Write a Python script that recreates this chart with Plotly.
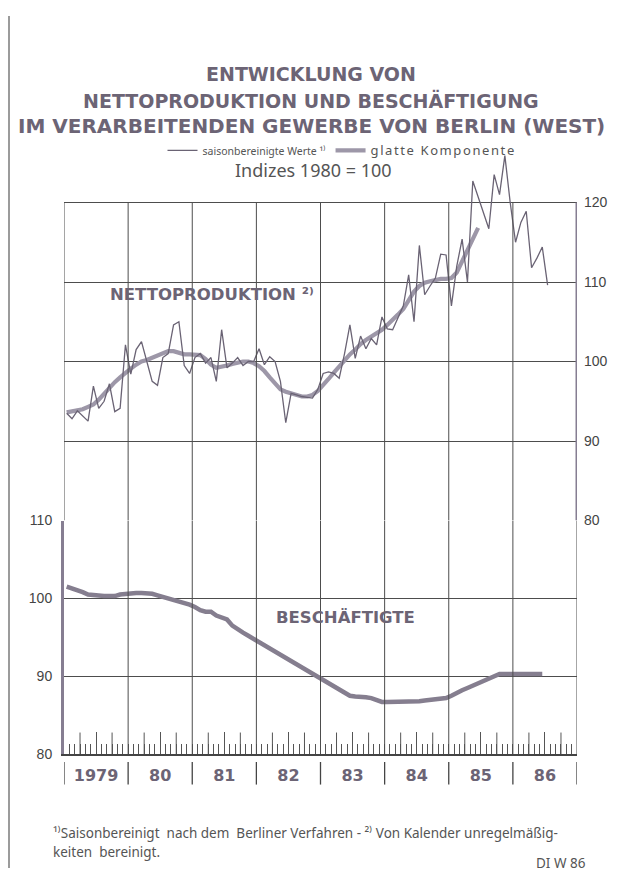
import plotly.graph_objects as go

# ---------------- data (monthly, starting January 1979) ----------------
start_year = 1979
year_labels = ["1979", "80", "81", "82", "83", "84", "85", "86"]

netto_saison = [
    93.5, 92.8, 93.8, 93.2, 92.5, 96.9, 94.1, 95.0, 97.2, 93.7, 94.1, 102.1,      # 1979
    98.4, 101.5, 102.5, 100.0, 97.5, 97.0, 100.5, 101.0, 104.6, 105.0, 99.5, 98.5,  # 1980
    100.5, 101.0, 99.8, 100.5, 97.5, 104.0, 99.2, 99.8, 100.5, 99.5, 100.0, 100.0,  # 1981
    101.6, 99.6, 100.6, 100.0, 97.5, 92.3, 96.0, 95.8, 95.6, 95.5, 95.4, 96.5,      # 1982
    98.5, 98.7, 98.5, 97.9, 101.0, 104.6, 100.4, 103.2, 101.6, 102.9, 102.1, 105.6, # 1983
    104.1, 104.0, 105.6, 107.0, 110.9, 105.0, 114.6, 108.4, 109.5, 110.5, 113.5, 113.4,  # 1984
    107.0, 112.0, 115.4, 110.0, 122.7, 120.6, 118.5, 116.7, 123.5, 121.0, 125.9, 120.0,  # 1985
    115.0, 117.5, 118.9, 111.8, 113.0, 114.4, 109.6,                                # 1986
]

netto_glatt = [
    93.6, 93.7, 93.8, 94.0, 94.3, 94.6, 95.2, 96.0, 96.8, 97.4, 98.0, 98.6,
    99.1, 99.6, 100.0, 100.2, 100.5, 100.8, 101.1, 101.3, 101.3, 101.1, 100.9, 100.9,
    100.9, 100.8, 100.3, 99.6, 99.2, 99.3, 99.5, 99.7, 99.9, 100.0, 100.0, 99.8,
    99.4, 98.8, 98.0, 97.2, 96.5, 96.2, 96.0, 95.8, 95.6, 95.6, 95.8, 96.3,
    97.0, 97.8, 98.6, 99.4, 100.2, 100.9, 101.5, 102.2, 102.7, 103.1, 103.5, 104.0,
    104.6, 105.2, 105.9, 106.6, 107.8, 108.8, 109.5, 109.9, 110.1, 110.3, 110.4, 110.4,
    110.5, 111.2, 112.6, 114.2, 115.6, 116.8,
]

beschaeftigte = [
    101.5, 101.3, 101.0, 100.8, 100.5, 100.4, 100.3, 100.3, 100.3, 100.3, 100.5, 100.6,
    100.7, 100.7, 100.7, 100.7, 100.6, 100.4, 100.2, 100.0, 99.9, 99.7, 99.4, 99.2,
    98.9, 98.5, 98.3, 98.3, 97.8, 97.5, 97.3, 96.5, 96.0, 95.6, 95.2, 94.8,
    94.3, 93.9, 93.5, 93.1, 92.7, 92.3, 91.9, 91.5, 91.1, 90.7, 90.4, 90.0,
    89.6, 89.2, 88.7, 88.3, 87.9, 87.5, 87.4, 87.4, 87.3, 87.2, 86.9, 86.7,
    86.7, 86.7, 86.7, 86.7, 86.7, 86.7, 86.8, 86.9, 87.0, 87.0, 87.1, 87.2,
    87.5, 87.9, 88.2, 88.5, 88.8, 89.2, 89.5, 89.8, 90.1, 90.3, 90.3, 90.3,
    90.3, 90.3, 90.3, 90.3, 90.3, 90.3,
]

upper_ticks = [80, 90, 100, 110, 120]
lower_ticks = [80, 90, 100, 110]

# ---------------- helpers ----------------
# The page body has an 8px margin; the figure is sized so that it fits the window exactly.
OFF = 8
FW, FH = 619 - OFF, 876 - OFF

def px(p):  # window pixel -> paper x
    return (p - OFF) / FW

def py(p):  # window pixel -> paper y
    return 1 - (p - OFF) / FH

def month_x(n):
    return [start_year + (i + 0.5) / 12 for i in range(n)]

n_years = len(year_labels)
end_year = start_year + n_years
year_bounds = list(range(start_year, end_year + 1))
mid_years = [y + 0.5 for y in range(start_year, end_year)]
side_quarters = [y + q for y in range(start_year, end_year) for q in (0.25, 0.75)]

TXT = "#6c6475"
GRID = "#4d4d4d"
THIN = "#6a6374"
THICK = "#9d97a8"
EMP = "#857e8f"
AXIS_PURPLE = "#867e92"

# panel geometry (window pixels)
UP_80, UP_PX_PER_UNIT = 522, 8.1
UP_TOP_VAL = 126.5
UP_TOP = UP_80 - (UP_TOP_VAL - 80) * UP_PX_PER_UNIT
LO_110, LO_80 = 522, 760
LO_PX_PER_UNIT = (LO_80 - LO_110) / 30.0

fig = go.Figure()

fig.add_trace(go.Scatter(
    x=month_x(len(netto_glatt)), y=netto_glatt, xaxis="x", yaxis="y",
    mode="lines", line=dict(color=THICK, width=4.2),
    name='<span style="font-size:13px;letter-spacing:1.6px">glatte Komponente</span>',
    legendrank=2,
))
fig.add_trace(go.Scatter(
    x=month_x(len(netto_saison)), y=netto_saison, xaxis="x", yaxis="y",
    mode="lines", line=dict(color=THIN, width=1.3),
    name="saisonbereinigte Werte ¹⁾", legendrank=1,
))
fig.add_trace(go.Scatter(
    x=month_x(len(beschaeftigte)), y=beschaeftigte, xaxis="x2", yaxis="y2",
    mode="lines", line=dict(color=EMP, width=4.5), showlegend=False,
))

x_dom = [px(64), px(577)]

shapes = []
# upper panel vertical grid
for yb in year_bounds:
    if yb == end_year:
        shapes.append(dict(type="line", xref="x", yref="y", x0=yb, x1=yb, y0=80, y1=120,
                           line=dict(color=AXIS_PURPLE, width=3)))
    else:
        shapes.append(dict(type="line", xref="x", yref="y", x0=yb, x1=yb, y0=80, y1=120,
                           line=dict(color=GRID, width=1)))
# lower panel vertical grid
for yb in year_bounds[1:]:
    shapes.append(dict(type="line", xref="x2", yref="y2", x0=yb, x1=yb, y0=80, y1=110,
                       line=dict(color=GRID, width=1)))
# long quarter ticks (March / September) inside the time axis
for q in side_quarters:
    shapes.append(dict(type="line", xref="x2", yref="y2", x0=q, x1=q, y0=80, y1=80 + 22 / LO_PX_PER_UNIT,
                       line=dict(color="#555555", width=1)))
# year separators below the time axis
for yb in year_bounds:
    shapes.append(dict(type="line", xref="x2", yref="paper", x0=yb, x1=yb,
                       y0=py(LO_80 + 31), y1=py(LO_80 + 8),
                       line=dict(color="#444444", width=1.3)))
# page border at left
shapes.append(dict(type="line", xref="paper", yref="paper", x0=px(9), x1=px(9), y0=0, y1=1,
                   line=dict(color="#7a7a7a", width=1.5)))

annotations = []
for txt, yy, fs in [("ENTWICKLUNG VON", 67, 19),
                    ("NETTOPRODUKTION UND BESCHÄFTIGUNG", 94, 19),
                    ("IM VERARBEITENDEN GEWERBE VON BERLIN (WEST)", 120, 20)]:
    annotations.append(dict(text=txt, xref="paper", yref="paper", x=px(311), y=py(yy),
                            xanchor="center", yanchor="middle", showarrow=False,
                            font=dict(family="DejaVu Sans", size=fs, color=TXT, weight="bold")))
annotations.append(dict(text="Indizes 1980 = 100", xref="paper", yref="paper", x=px(313), y=py(165),
                        xanchor="center", yanchor="middle", showarrow=False,
                        font=dict(family="Noto Sans", size=18, color="#555555")))
annotations.append(dict(text="NETTOPRODUKTION ²⁾",
                        xref="x", yref="y", x=1979.69, y=108.4,
                        xanchor="left", yanchor="middle", showarrow=False,
                        font=dict(family="DejaVu Sans", size=16.5, color=TXT, weight="bold")))
annotations.append(dict(text="BESCHÄFTIGTE",
                        xref="x2", yref="y2", x=1982.28, y=97.6,
                        xanchor="left", yanchor="middle", showarrow=False,
                        font=dict(family="DejaVu Sans", size=16.5, color=TXT, weight="bold")))
foot_font = dict(family="Noto Sans", size=13.5, color="#555555")
annotations.append(dict(text="¹⁾Saisonbereinigt  nach dem  Berliner Verfahren - ²⁾ Von Kalender unregelmäßig-",
                        xref="paper", yref="paper", x=px(51), y=py(840), xanchor="left", yanchor="middle",
                        showarrow=False, font=foot_font))
annotations.append(dict(text="keiten  bereinigt.",
                        xref="paper", yref="paper", x=px(51), y=py(860),
                        xanchor="left", yanchor="middle", showarrow=False, font=foot_font))
annotations.append(dict(text="DI W 86", xref="paper", yref="paper", x=px(588), y=py(871),
                        xanchor="right", yanchor="middle", showarrow=False, font=foot_font))

fig.update_layout(
    width=FW, height=FH, margin=dict(l=0, r=0, t=0, b=0),
    paper_bgcolor="white", plot_bgcolor="rgba(0,0,0,0)",
    showlegend=True,
    legend=dict(orientation="h", x=px(342), xanchor="center", y=py(145), yanchor="middle",
                bgcolor="rgba(0,0,0,0)", font=dict(family="Noto Sans", size=10.5, color="#555555"),
                itemwidth=30, traceorder="normal", tracegroupgap=0),
    xaxis=dict(domain=x_dom, anchor="y", range=[start_year, end_year], visible=False),
    yaxis=dict(domain=[py(UP_80), py(UP_TOP)], anchor="x", range=[80, UP_TOP_VAL], side="right",
               tickmode="array", tickvals=upper_ticks, showgrid=True, gridcolor=GRID, gridwidth=1,
               zeroline=False, showline=False, ticks="",
               tickfont=dict(family="Liberation Sans", size=14, color="#444444"), ticklabelstandoff=6),
    xaxis2=dict(domain=x_dom, anchor="y2", range=[start_year, end_year],
                tickmode="array", tickvals=mid_years, ticktext=year_labels,
                ticks="inside", ticklen=22, tickwidth=1, tickcolor="#555555",
                tickfont=dict(family="DejaVu Sans", size=16, color=TXT, weight="bold"),
                ticklabelstandoff=6,
                showgrid=False, zeroline=False, showline=True, linecolor="#444444", linewidth=2,
                minor=dict(ticks="inside", ticklen=10, tickwidth=1, tickcolor="#555555",
                           dtick=1 / 12, tick0=start_year, showgrid=False)),
    yaxis2=dict(domain=[py(LO_80), py(LO_110)], anchor="x2", range=[80, 110],
                tickmode="array", tickvals=lower_ticks, showgrid=True, gridcolor=GRID, gridwidth=1,
                zeroline=False, showline=True, linecolor=AXIS_PURPLE, linewidth=3, ticks="",
                tickfont=dict(family="Liberation Sans", size=14, color="#444444"), ticklabelstandoff=6),
    shapes=shapes,
    annotations=annotations,
)

fig.write_html("out.html")
